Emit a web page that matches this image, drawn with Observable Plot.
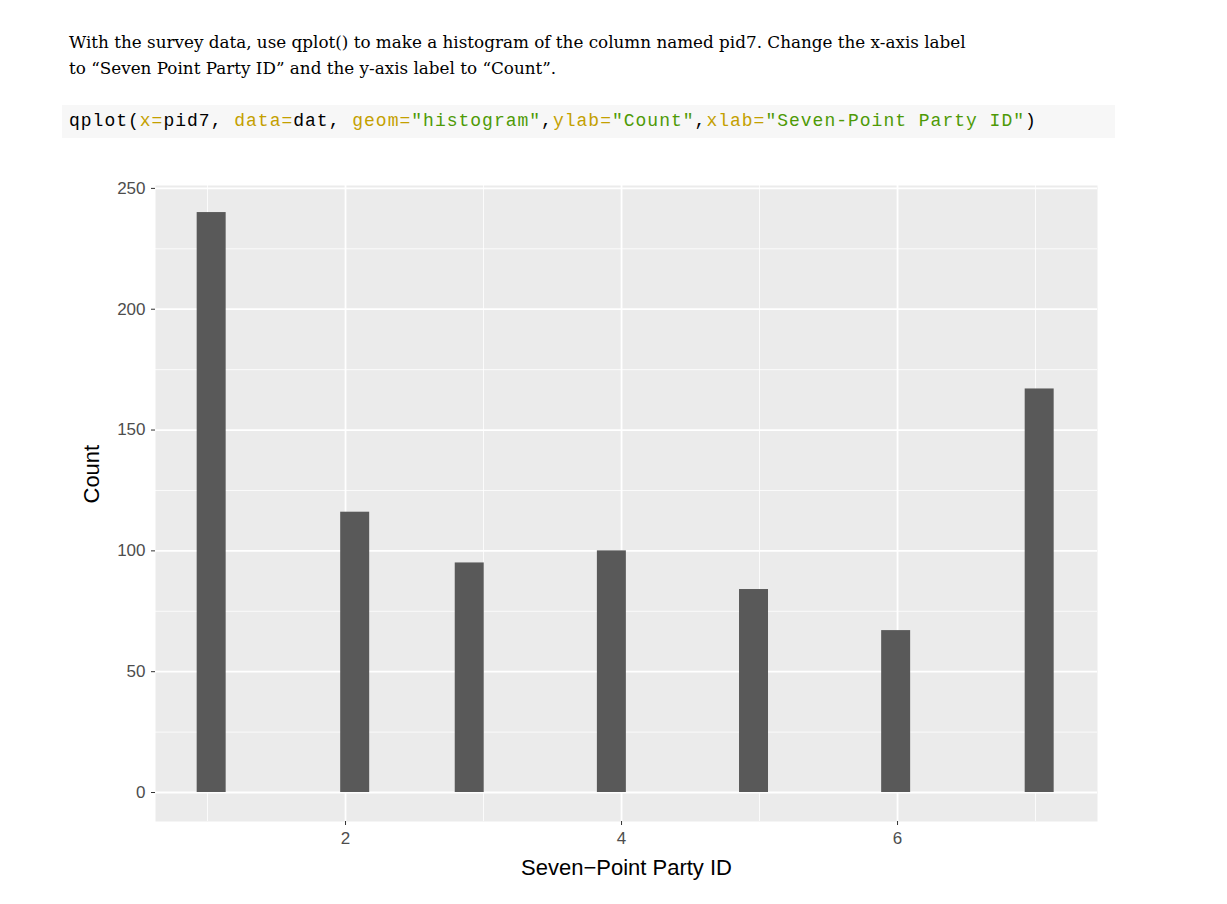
<!DOCTYPE html>
<html><head><meta charset="utf-8">
<script src="https://cdn.jsdelivr.net/npm/d3@7"></script>
<script src="https://cdn.jsdelivr.net/npm/@observablehq/plot@0.6"></script>
<style>
body{margin:0;background:#fff;width:1227px;height:904px;position:relative;overflow:hidden}
#txt{position:absolute;left:69px;top:29px;font-family:"DejaVu Serif",serif;font-size:16.8px;line-height:26px;color:#000}
#code{position:absolute;left:62px;top:105px;width:1053px;height:33px;background:#f7f7f7;font-family:"Liberation Mono",monospace;font-size:18px;letter-spacing:1px;line-height:33px;padding-left:7px;box-sizing:border-box;white-space:pre}
.k{color:#c4a000}.s{color:#4e9a06}
#plot{position:absolute;left:0;top:170px}
</style></head><body>
<div id="txt">With the survey data, use qplot() to make a histogram of the column named pid7. Change the x-axis label<br>to “Seven Point Party ID” and the y-axis label to “Count”.</div>
<div id="code">qplot(<span class="k">x=</span>pid7, <span class="k">data=</span>dat, <span class="k">geom=</span><span class="s">"histogram"</span>,<span class="k">ylab=</span><span class="s">"Count"</span>,<span class="k">xlab=</span><span class="s">"Seven-Point Party ID"</span>)</div>
<div id="plot"></div>
<script>
// bin centres and counts
const binCenters = [1.03, 2.07, 2.90, 3.93, 4.96, 5.99, 7.03];
const counts = [240, 116, 95, 100, 84, 67, 167];
const binWidth = 0.21;
const xMajor = [2, 4, 6];
const xMinor = [1, 3, 5, 7];
const yMajor = [0, 50, 100, 150, 200, 250];
const yMinor = [25, 75, 125, 175, 225];

const bars = binCenters.map((c, i) => ({x1: c - binWidth / 2, x2: c + binWidth / 2, n: counts[i]}));

const chart = Plot.plot({
  width: 1227, height: 730,
  marginLeft: 155, marginRight: 130, marginTop: 15, marginBottom: 79,
  style: {fontFamily: "Liberation Sans, Arial, sans-serif", fontSize: "17px", color: "#4d4d4d", background: "transparent"},
  x: {domain: [0.623, 7.449], label: null},
  y: {domain: [-12, 251.2], label: null},
  marks: [
    Plot.frame({fill: "#ebebeb", stroke: null}),
    Plot.ruleY(yMinor, {stroke: "#fff", strokeWidth: 0.8}),
    Plot.ruleX(xMinor, {stroke: "#fff", strokeWidth: 0.8}),
    Plot.ruleY(yMajor, {stroke: "#fff", strokeWidth: 1.8}),
    Plot.ruleX(xMajor, {stroke: "#fff", strokeWidth: 1.8}),
    Plot.rectY(bars, {x1: "x1", x2: "x2", y1: 0, y2: "n", fill: "#595959"}),
    Plot.axisX(xMajor, {tickSize: 4, tickPadding: 6, tickFormat: "d", stroke: "#333", fill: "#4d4d4d", label: null}),
    Plot.axisY(yMajor, {tickSize: 4, tickPadding: 6, tickFormat: "d", stroke: "#333", fill: "#4d4d4d", label: null}),
    Plot.text(["Seven\u2212Point Party ID"], {frameAnchor: "bottom", dy: 53, fontSize: 22, fill: "#000"}),
    Plot.text(["Count"], {frameAnchor: "left", dx: -64, rotate: -90, fontSize: 22, fill: "#000"})
  ]
});
document.getElementById("plot").appendChild(chart);
</script>
</body></html>
